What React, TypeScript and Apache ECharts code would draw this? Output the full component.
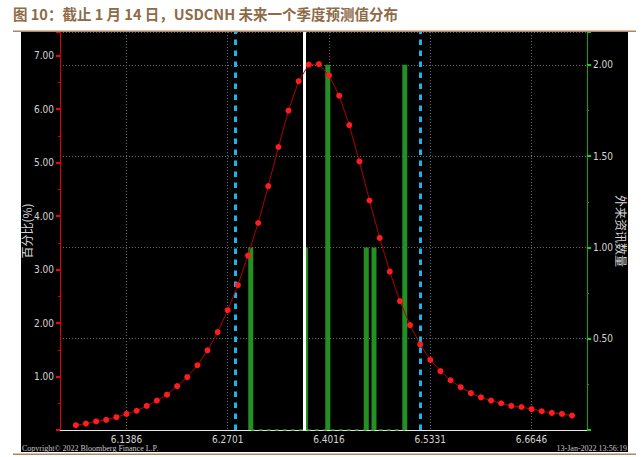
import React, { useEffect, useRef } from 'react';
import * as echarts from 'echarts';

const titleText = '图 10：截止 1 月 14 日，USDCNH 未来一个季度预测值分布';
const leftAxisName = '百分比(%)';
const rightAxisName = '外来资讯数量';
const copyrightText = 'Copyright© 2022 Bloomberg Finance L.P.';
const stampText = '13-Jan-2022 13:56:19';

const xTickLabels = [6.1386, 6.2701, 6.4016, 6.5331, 6.6646];

const curveX = [
  6.0729, 6.0860, 6.0992, 6.1123, 6.1255, 6.1386, 6.1518, 6.1649, 6.1781, 6.1912,
  6.2044, 6.2175, 6.2307, 6.2438, 6.2570, 6.2701, 6.2833, 6.2964, 6.3096, 6.3227,
  6.3359, 6.3490, 6.3622, 6.3753, 6.3885, 6.4016, 6.4148, 6.4279, 6.4411, 6.4542,
  6.4674, 6.4805, 6.4937, 6.5068, 6.5200, 6.5331, 6.5463, 6.5594, 6.5726, 6.5857,
  6.5989, 6.6120, 6.6252, 6.6383, 6.6515, 6.6646, 6.6778, 6.6909, 6.7041, 6.7172,
];
const curvePct = [
  0.09, 0.12, 0.16, 0.19, 0.24, 0.30, 0.36, 0.45, 0.55, 0.66,
  0.82, 0.99, 1.21, 1.49, 1.83, 2.24, 2.71, 3.26, 3.87, 4.56,
  5.29, 5.97, 6.52, 6.83, 6.84, 6.63, 6.25, 5.70, 5.02, 4.29,
  3.59, 2.96, 2.41, 1.96, 1.60, 1.31, 1.10, 0.93, 0.80, 0.69,
  0.61, 0.55, 0.50, 0.45, 0.43, 0.39, 0.35, 0.32, 0.30, 0.27,
];

const newsX = [6.30, 6.371, 6.40, 6.45, 6.46, 6.50];
const newsCount = [1, 1, 2, 1, 1, 2];

const bandLines = [6.2759, 6.5156];
const currentLine = 6.3665;

const narrow = "'Liberation Sans Narrow', 'Arial Narrow', 'DejaVu Sans Condensed', sans-serif";
const cjk = "'Noto Sans CJK SC', sans-serif";
const labelGray = '#d4d4d4';

export default function App() {
  const ref = useRef<HTMLDivElement>(null);

  useEffect(() => {
    if (!ref.current) return;
    const chart = echarts.init(ref.current, undefined, { renderer: 'svg' });
    const option: any = {
      animation: false,
      backgroundColor: '#ffffff',
      graphic: [
        { type: 'rect', z: -10, shape: { x: 21, y: 32, width: 607, height: 420 }, style: { fill: '#000000' } },
        { type: 'rect', z: 10, shape: { x: 13, y: 30.5, width: 623, height: 1.5 }, style: { fill: '#b08560' } },
        { type: 'rect', z: 10, shape: { x: 13, y: 453.5, width: 623, height: 1.5 }, style: { fill: '#b08560' } },
        {
          type: 'text', left: 13, top: 6, z: 10,
          style: { text: titleText, fill: '#8d6b47', font: `bold 14.5px ${cjk}` },
        },
        {
          type: 'text', left: 22, top: 444, z: 10,
          style: { text: copyrightText, fill: '#c8c8c8', font: "8px 'Liberation Serif', serif" },
        },
        {
          type: 'text', right: 15, top: 444, z: 10,
          style: { text: stampText, fill: '#c8c8c8', font: "8px 'Liberation Serif', serif" },
        },
      ],
      grid: { left: 60, right: 55, top: 32, bottom: 27, containLabel: false },
      xAxis: {
        type: 'value',
        min: 6.0523,
        max: 6.7366,
        axisLine: { show: true, onZero: false, lineStyle: { color: '#e8e8e8', width: 1 } },
        axisTick: { show: false, customValues: xTickLabels },
        axisLabel: {
          customValues: xTickLabels,
          formatter: (v: number) => v.toFixed(4),
          color: labelGray,
          fontSize: 10,
          fontFamily: narrow,
          margin: 4,
        },
        splitLine: { show: true, lineStyle: { color: '#6a6a6a', type: [1, 2], width: 1 } },
      },
      yAxis: [
        {
          type: 'value',
          position: 'left',
          min: 0,
          max: 7.44,
          interval: 1,
          name: leftAxisName,
          nameLocation: 'middle',
          nameGap: 28,
          nameRotate: 90,
          nameMoveOverlap: false,
          nameTextStyle: { color: labelGray, fontSize: 12, fontFamily: cjk },
          axisLine: { show: true, lineStyle: { color: '#e00000', width: 1 } },
          axisTick: { show: true, length: 4, lineStyle: { color: '#ff0000', width: 2 } },
          minorTick: { show: true, splitNumber: 2, length: 2, lineStyle: { color: '#e00000', width: 1 } },
          axisLabel: {
            formatter: (v: number) => v.toFixed(2),
            showMinLabel: false,
            showMaxLabel: false,
            color: labelGray,
            fontSize: 10,
            fontFamily: narrow,
            margin: 6,
          },
          splitLine: { show: false },
        },
        {
          type: 'value',
          position: 'right',
          min: 0,
          max: 2.18,
          interval: 0.5,
          name: rightAxisName,
          nameLocation: 'middle',
          nameGap: 28,
          nameRotate: -90,
          nameMoveOverlap: false,
          nameTextStyle: { color: labelGray, fontSize: 12, fontFamily: cjk },
          axisLine: { show: true, lineStyle: { color: '#00b000', width: 1 } },
          axisTick: { show: true, length: 4, lineStyle: { color: '#00e000', width: 2 } },
          minorTick: { show: true, splitNumber: 2, length: 2, lineStyle: { color: '#00b000', width: 1 } },
          axisLabel: {
            formatter: (v: number) => v.toFixed(2),
            showMinLabel: false,
            showMaxLabel: false,
            color: labelGray,
            fontSize: 10,
            fontFamily: narrow,
            margin: 6,
          },
          splitLine: { show: true, lineStyle: { color: '#6a6a6a', type: [1, 2], width: 1 } },
        },
      ],
      series: [
        {
          type: 'bar',
          name: 'news',
          xAxisIndex: 0,
          yAxisIndex: 1,
          barWidth: 5,
          z: 2,
          itemStyle: { color: '#239023' },
          data: newsX.map((x, i) => [x, newsCount[i]]),
        },
        {
          type: 'line',
          name: 'zero',
          xAxisIndex: 0,
          yAxisIndex: 1,
          symbol: 'none',
          z: 2,
          lineStyle: { color: '#239023', width: 1.5, type: [4, 4] },
          data: [[newsX[0], 0], [newsX[newsX.length - 1], 0]],
        },
        {
          type: 'line',
          name: 'markers',
          xAxisIndex: 0,
          yAxisIndex: 0,
          data: [],
          z: 3,
          markLine: {
            silent: true,
            symbol: ['none', 'none'],
            label: { show: false },
            animation: false,
            data: [
              ...bandLines.map((x) => ({
                xAxis: x,
                lineStyle: { color: '#1db4ee', width: 3, type: [5.5, 5.5] },
              })),
              { xAxis: currentLine, lineStyle: { color: '#ffffff', width: 3, type: 'solid' } },
            ],
          },
        },
        {
          type: 'line',
          name: 'pct',
          xAxisIndex: 0,
          yAxisIndex: 0,
          z: 5,
          symbol: 'circle',
          symbolSize: 6,
          itemStyle: { color: '#ff1c1c' },
          lineStyle: { color: '#b00000', width: 1 },
          data: curveX.map((x, i) => [x, curvePct[i]]),
        },
      ],
    };
    chart.setOption(option);
    return () => chart.dispose();
  }, []);

  return (
    <div
      ref={ref}
      style={{ position: 'absolute', left: 0, top: 0, width: 642, height: 457 }}
    />
  );
}
